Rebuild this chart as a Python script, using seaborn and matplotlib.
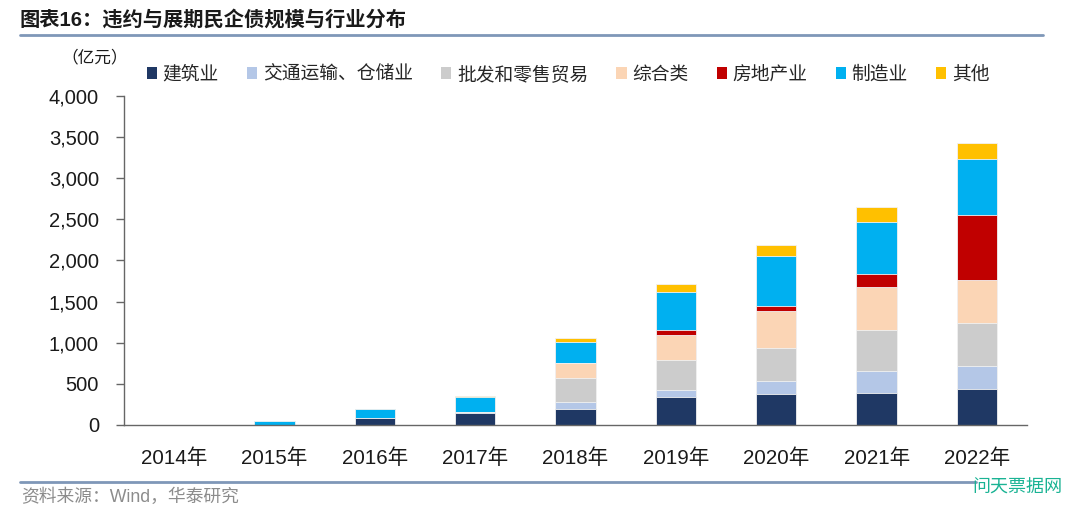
import matplotlib
matplotlib.use('Agg')
import matplotlib.pyplot as plt
from matplotlib.lines import Line2D
from matplotlib.patches import Patch
import numpy as np
import pandas as pd
import seaborn as sns

years = ['2014年', '2015年', '2016年', '2017年', '2018年', '2019年', '2020年', '2021年', '2022年']
industries = ['建筑业', '交通运输、仓储业', '批发和零售贸易', '综合类', '房地产业', '制造业', '其他']
jianzhu = [0, 0, 80, 145, 195, 340, 375, 385, 435]
jiaotong = [0, 0, 0, 10, 80, 90, 155, 265, 285]
pifa = [0, 0, 0, 0, 300, 355, 400, 500, 515]
zonghe = [0, 0, 0, 0, 178, 310, 450, 530, 530]
fangdichan = [0, 0, 0, 0, 0, 55, 65, 155, 785]
zhizao = [0, 45, 118, 190, 255, 470, 605, 630, 680]
qita = [0, 0, 0, 12, 52, 93, 142, 182, 194]
colors = ['#1F3864', '#B4C7E7', '#CCCCCC', '#FBD5B5', '#C00000', '#00B0F0', '#FFC000']

series = [jianzhu, jiaotong, pifa, zonghe, fangdichan, zhizao, qita]
df = pd.DataFrame(dict(zip(industries, series)), index=years)
cum = df.cumsum(axis=1)

sns.set_theme(style='white')
plt.rcParams['font.family'] = ['Liberation Sans', 'Noto Sans CJK SC']
plt.rcParams['axes.unicode_minus'] = False

fig = plt.figure(figsize=(10.8, 5.16), dpi=100)
ax = fig.add_axes([0.1148, 0.1764, 0.951 - 0.1148, 0.8145 - 0.1764])

# stacked bars: draw cumulative totals from the top segment down
for name, c in reversed(list(zip(industries, colors))):
    sns.barplot(x=years, y=cum[name].values, color=c, width=0.4, ax=ax,
                edgecolor='#f2f2f2', linewidth=0.6, saturation=1)

ax.set_ylim(0, 4000)
ax.set_xlim(-0.5, 8.5)
ax.set_yticks(np.arange(0, 4001, 500))
ax.set_yticklabels([f'{v:,}' for v in range(0, 4001, 500)], fontsize=14.5, color='#1a1a1a')
ax.set_xticks(range(len(years)))
ax.set_xticklabels(years, fontsize=14.8, color='#1a1a1a')
ax.set_xticks(np.arange(-0.5, 9, 1), minor=True)
ax.tick_params(axis='x', which='major', length=0, pad=17)
ax.tick_params(axis='x', which='minor', length=6, width=1, color='#666666', direction='out')
ax.tick_params(axis='y', length=6, width=1, color='#666666', direction='out', pad=12, left=True)
for s in ['top', 'right']:
    ax.spines[s].set_visible(False)
for s in ['left', 'bottom']:
    ax.spines[s].set_color('#666666')
    ax.spines[s].set_linewidth(1)
ax.set_xlabel('')
ax.set_ylabel('')
ax.grid(False)

fig.text(0.118, 0.889, '（亿元）', fontsize=12, ha='right', va='center', color='#1a1a1a')

handles = [Patch(facecolor=c, edgecolor='none') for c in colors]
fig.legend(handles, industries, loc='center', bbox_to_anchor=(0.526, 0.855), ncol=7,
           frameon=False, fontsize=13.5, handlelength=0.55, handleheight=0.65,
           handletextpad=0.3, columnspacing=1.5)

fig.text(0.0185, 0.961, '图表16：违约与展期民企债规模与行业分布', fontsize=14.6,
         fontweight='bold', ha='left', va='center', color='#1a1a1a')
fig.add_artist(Line2D([0.0185, 0.966], [0.932, 0.932], color='#7f97b8', linewidth=2))
fig.add_artist(Line2D([0.0185, 0.904], [0.066, 0.066], color='#7f97b8', linewidth=2))
fig.text(0.02, 0.036, '资料来源：Wind，华泰研究', fontsize=12.8, ha='left', va='center', color='#8c8c8c')
fig.text(0.9, 0.055, '问天票据网', fontsize=13, ha='left', va='center', color='#1AB394')

fig.savefig('out.png', dpi=100)
